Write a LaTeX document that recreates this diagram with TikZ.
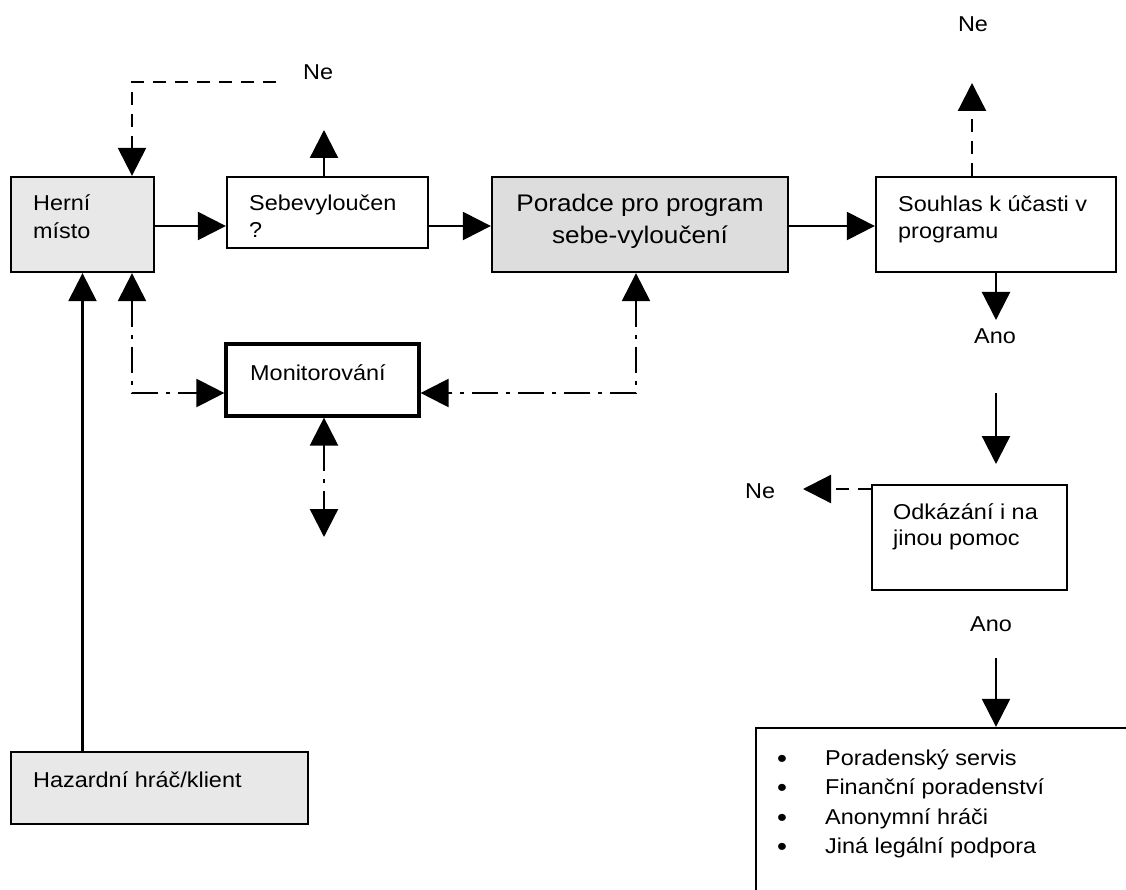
\documentclass[tikz,border=0pt]{standalone}
\usepackage{fontspec}
\setmainfont{Liberation Sans}[FakeStretch=1.09]
\usetikzlibrary{arrows.meta}
\definecolor{lightbox}{RGB}{232,232,232}
\definecolor{midbox}{RGB}{221,221,221}
\tikzset{
  box/.style={draw=black, line width=2.3pt, rectangle, inner sep=0pt, fill=white},
  graybox/.style={box, fill=lightbox},
  txt/.style={inner sep=0pt, anchor=base west, font=\fontsize{21.5pt}{27.5pt}\selectfont},
  bul/.style={inner sep=0pt, anchor=base west, font=\fontsize{26pt}{30pt}\selectfont},
  lbl/.style={txt, anchor=base},
  bigtxt/.style={inner sep=0pt, anchor=base, font=\fontsize{24pt}{32pt}\selectfont},
  tip/.tip={Triangle[length=28pt,width=28pt]},
  arr/.style={line width=2.3pt, -tip},
  dsh/.style={arr, dash pattern=on 13pt off 9pt},
  dd/.style={line width=2.3pt, dash pattern=on 26pt off 8pt on 4pt off 8pt, tip-tip}
}
\begin{document}
\begin{tikzpicture}[x=1pt,y=-1pt]
\useasboundingbox (0,0) rectangle (1126,890);
\clip (0,0) rectangle (1126,890);

% boxes
\node[graybox, minimum width=143pt, minimum height=95pt] (A) at (82.5,224.5) {};
\node[box, minimum width=201pt, minimum height=71pt] (B) at (327.5,212.5) {};
\node[box, fill=midbox, minimum width=296pt, minimum height=95pt] (C) at (640,224.5) {};
\node[box, minimum width=240pt, minimum height=95pt] (D) at (996,224.5) {};
\node[box, line width=3.2pt, minimum width=193pt, minimum height=72pt] (M) at (322.5,380) {};
\node[graybox, minimum width=297pt, minimum height=72pt] (H) at (159.5,788) {};
\node[box, minimum width=195pt, minimum height=105pt] (E) at (969.5,537.5) {};
\node[box, minimum width=384pt, minimum height=172pt] (F) at (948,814) {};

% box texts
\node[txt] (At1) at (33,211) {Herní};
\node[txt] (At2) at (33,239) {místo};
\node[txt] (Bt1) at (249,211) {Sebevyloučen};
\node[txt] (Bt2) at (249,238) {?};
\node[bigtxt] (Ct1) at (640,212) {Poradce pro program};
\node[bigtxt] (Ct2) at (640,244) {sebe-vyloučení};
\node[txt] (Dt1) at (898,212) {Souhlas k účasti v};
\node[txt] (Dt2) at (898,239) {programu};
\node[txt] (Mt) at (250,380) {Monitorování};
\node[txt] (Ht) at (33,787) {Hazardní hráč/klient};
\node[txt] (Et1) at (893,519) {Odkázání i na};
\node[txt] (Et2) at (893,545) {jinou pomoc};

\node[bul] (b1) at (777,767) {•};
\node[bul] (b2) at (777,796.5) {•};
\node[bul] (b3) at (777,826) {•};
\node[bul] (b4) at (777,855.5) {•};
\node[txt] (Ft1) at (825,765) {Poradenský servis};
\node[txt] (Ft2) at (825,794.5) {Finanční poradenství};
\node[txt] (Ft3) at (825,824) {Anonymní hráči};
\node[txt] (Ft4) at (825,853.5) {Jiná legální podpora};

% labels
\node[txt] (ne1) at (303,80) {Ne};
\node[lbl] (ne2) at (973,32) {Ne};
\node[lbl] (ano1) at (995,343) {Ano};
\node[txt] (ne3) at (745,498) {Ne};
\node[lbl] (ano2) at (991,631) {Ano};

% helper coordinates
\coordinate (r226) at (0,226);
\coordinate (r393) at (0,393);
\coordinate (neA) at (276,82);
\coordinate (xA) at (132,0);
\coordinate (upB) at (324,130);
\coordinate (upD) at (972,83);
\coordinate (dnD) at (996,320);
\coordinate (a1s) at (996,393);
\coordinate (a1e) at (996,464);
\coordinate (neL) at (803,489);
\coordinate (a2s) at (996,658);
\coordinate (xC) at (636,0);
\coordinate (xM) at (324,0);
\coordinate (dnM) at (324,537);

% solid connectors
\draw[arr] (A.east |- r226) -- (B.west |- r226);
\draw[arr] (B.east |- r226) -- (C.west |- r226);
\draw[arr] (C.east |- r226) -- (D.west |- r226);
\draw[arr] (B.north -| upB) -- (upB);
\draw[arr] (D.south -| dnD) -- (dnD);
\draw[arr] (a1s) -- (a1e);
\draw[arr] (a2s) -- (a2s |- F.north);
\draw[arr] (A.south |- H.north) -- (A.south);

% dashed connectors
\draw[dsh] (neA) -| (A.north -| xA);
\draw[dsh] (D.north -| upD) -- (upD);
\draw[dsh] (E.west |- neL) -- (neL);

% dash-dot connectors
\draw[dd] (A.south -| xA) |- (M.west |- r393);
\draw[dd] (C.south -| xC) |- (M.east |- r393);
\draw[dd] (M.south -| xM) -- (dnM);
\end{tikzpicture}
\end{document}
